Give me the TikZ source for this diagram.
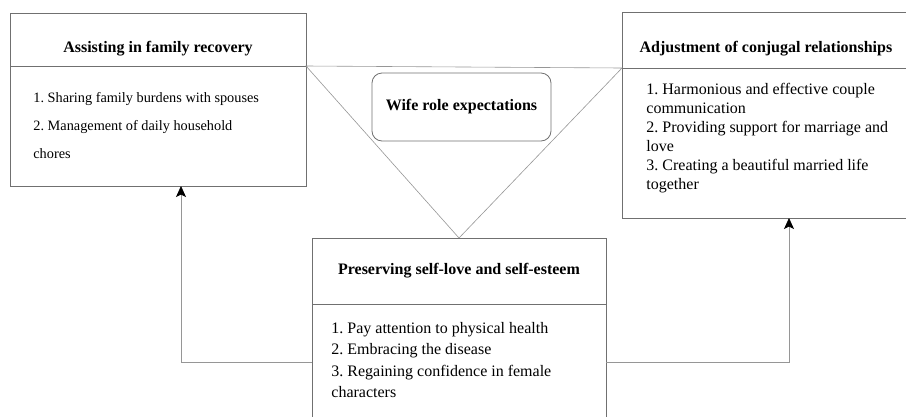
\documentclass[tikz,border=0pt]{standalone}
\usepackage{fontspec}
\setmainfont{Liberation Serif}
\usetikzlibrary{positioning,arrows.meta}
\definecolor{boxgray}{RGB}{112,112,112}
\definecolor{linegray}{RGB}{150,150,150}
\frenchspacing

\begin{document}
\begin{tikzpicture}[x=1pt,y=-1pt,line width=0.8pt,
head/.style={draw=boxgray,rectangle,outer sep=0pt,inner sep=0pt,font=\bfseries\fontsize{16}{18}\selectfont},
body/.style={draw=boxgray,rectangle,outer sep=0pt,inner sep=0pt},
bodytext/.style={align=left,inner sep=0pt,anchor=west},
tip/.style={draw=linegray,-{Stealth[length=11pt,width=10pt,inset=2.5pt,black]}}]
\useasboundingbox (0,0) rectangle (906,416);
% left block
\node [head,anchor=north west,minimum width=296pt,minimum height=53pt,text height=28pt,text depth=3pt] (lhead) at (10,13) {Assisting in family recovery};
\node [body,below=0pt of lhead,minimum width=296pt,minimum height=120pt] (lbody) {};
\node [bodytext,font=\fontsize{14.3}{28}\selectfont] (ltext) at ([xshift=23pt]lbody.west) {1. Sharing family burdens with spouses\\2. Management of daily household\\chores};
% right block
\node [head,anchor=north west,minimum width=288pt,minimum height=56pt,text height=28pt,text depth=3pt] (rhead) at (622,12) {Adjustment of conjugal relationships};
\node [body,below=0pt of rhead,minimum width=288pt,minimum height=150pt] (rbody) {};
\node [bodytext,font=\fontsize{16}{19}\selectfont] (rtext) at ([xshift=24pt,yshift=5pt]rbody.west) {1. Harmonious and effective couple\\communication\\2. Providing support for marriage and\\love\\3. Creating a beautiful married life\\together};
% middle block
\node [head,anchor=north west,minimum width=294pt,minimum height=66pt] (mhead) at (312,238) {Preserving self-love and self-esteem};
\node [body,below=0pt of mhead,minimum width=294pt,minimum height=116pt] (mbody) {};
\node [bodytext,font=\fontsize{16}{21.5}\selectfont] (mtext) at ([xshift=19pt,yshift=2pt]mbody.west) {1. Pay attention to physical health\\2. Embracing the disease\\3. Regaining confidence in female\\characters};
% triangle and centre
\draw [linegray,line width=0.6pt] (lhead.south east) -- (rhead.south west) -- (mhead.north) -- cycle;
\node [draw=boxgray,rounded corners=10pt,minimum width=179pt,minimum height=68pt,font=\bfseries\fontsize{16}{18}\selectfont] (wife) at (461.5,107) {Wife role expectations};
% arrows
\draw [tip] (mbody.west) -| ([xshift=23pt]lbody.south);
\draw [tip] (mbody.east) -| ([xshift=23pt]rbody.south);
\end{tikzpicture}
\end{document}
